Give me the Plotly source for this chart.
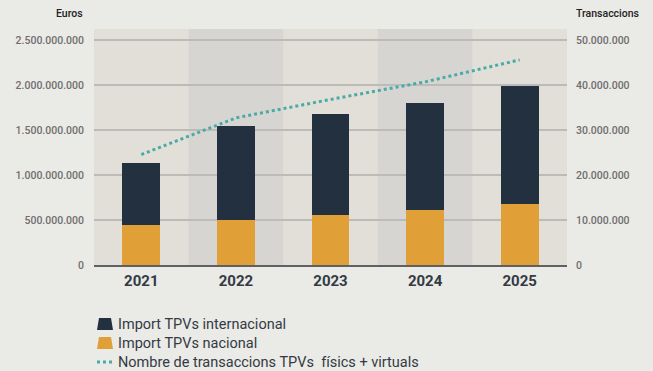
import plotly.graph_objects as go

years = ["2021", "2022", "2023", "2024", "2025"]
import_nacional = [446_000_000, 502_000_000, 558_000_000, 614_000_000, 681_000_000]
import_internacional = [692_000_000, 1_038_000_000, 1_116_000_000, 1_183_000_000, 1_306_000_000]
transaccions = [24_550_000, 32_700_000, 36_800_000, 40_700_000, 45_600_000]

euro_ticks = [0, 500_000_000, 1_000_000_000, 1_500_000_000, 2_000_000_000, 2_500_000_000]
trans_ticks = [0, 10_000_000, 20_000_000, 30_000_000, 40_000_000, 50_000_000]

NAVY = "#23303F"
ORANGE = "#E1A037"
TEAL = "#4AABA6"
PAGE = "#EAEAE6"
LIGHT_BAND = "#E1DFD8"
DARK_BAND = "#D6D5D1"
TEXT = "#333A44"
FONT = "Roboto"

# plot area in pixels (for placing the key below the chart)
L, R, T, B = 94, 567, 29, 265
W, H = 653, 371


def px(x):
    return (x - L) / (R - L)


def py(y):
    return (B - y) / (B - T)


fig = go.Figure()
fig.add_trace(go.Bar(
    x=years, y=import_nacional, name="Import TPVs nacional",
    marker=dict(color=ORANGE, line=dict(width=0)), width=0.4,
))
fig.add_trace(go.Bar(
    x=years, y=import_internacional, name="Import TPVs internacional",
    marker=dict(color=NAVY, line=dict(width=0)), width=0.4,
))
fig.add_trace(go.Scatter(
    x=years, y=transaccions, yaxis="y2", mode="lines",
    name="Nombre de transaccions TPVs  físics + virtuals",
    line=dict(color=TEAL, width=3, dash="dot"),
))

# alternating column bands
shapes = []
for i in (1, 3):
    shapes.append(dict(type="rect", xref="x", yref="paper", x0=i - 0.5, x1=i + 0.5,
                       y0=0, y1=1, fillcolor=DARK_BAND, line=dict(width=0), layer="below"))

# key below the chart
key = [
    ("Import TPVs internacional", NAVY, "box"),
    ("Import TPVs nacional", ORANGE, "box"),
    ("Nombre de transaccions TPVs  físics + virtuals", TEAL, "dots"),
]
annotations = []
for k, (label, color, kind) in enumerate(key):
    yc = 324 + 19 * k
    if kind == "box":
        shapes.append(dict(type="path", xref="paper", yref="paper",
                           path=f"M {px(97)},{py(yc + 6)} L {px(113)},{py(yc + 6)} "
                                f"L {px(111)},{py(yc - 6)} L {px(99)},{py(yc - 6)} Z",
                           fillcolor=color, line=dict(width=0)))
    else:
        shapes.append(dict(type="line", xref="paper", yref="paper",
                           x0=px(97), x1=px(114), y0=py(yc), y1=py(yc),
                           line=dict(color=color, width=3, dash="dot")))
    annotations.append(dict(text=label, xref="paper", yref="paper", x=px(116), y=py(yc),
                            xanchor="left", yanchor="middle", showarrow=False,
                            font=dict(size=14.5, color=TEXT, family=FONT)))

annotations += [
    dict(text="Euros", xref="paper", yref="paper", x=px(85), y=py(22),
         xanchor="right", yanchor="bottom", showarrow=False,
         font=dict(size=10.5, color="#222", family=FONT, weight=500)),
    dict(text="Transaccions", xref="paper", yref="paper", x=px(574), y=py(22),
         xanchor="left", yanchor="bottom", showarrow=False,
         font=dict(size=10.5, color="#222", family=FONT, weight=500)),
]

y_max = 2_623_000_000
fig.update_layout(
    width=W, height=H,
    margin=dict(l=L, r=W - R, t=T, b=H - B),
    paper_bgcolor=PAGE, plot_bgcolor=LIGHT_BAND,
    barmode="stack", bargap=0.6,
    separators=",.",
    font=dict(family=FONT, color=TEXT),
    showlegend=False,
    shapes=shapes,
    annotations=annotations,
    xaxis=dict(
        range=[-0.5, 4.5], showgrid=False, showline=True, linecolor="#5E6064", linewidth=2,
        ticks="", tickfont=dict(size=15, color=TEXT, family=FONT, weight="bold"),
        ticklabelstandoff=1,
    ),
    yaxis=dict(
        range=[0, y_max], tickvals=euro_ticks, tickformat=",d",
        showgrid=True, gridcolor="#BDBBB8", gridwidth=1.5, zeroline=False,
        tickfont=dict(size=10.5, color="#6E6E6E", weight=500), ticklabelstandoff=9,
    ),
    yaxis2=dict(
        overlaying="y", side="right", range=[0, y_max / 50], tickvals=trans_ticks,
        tickformat=",d", showgrid=False, zeroline=False,
        tickfont=dict(size=10.5, color="#6E6E6E", weight=500), ticklabelstandoff=8,
    ),
)

fig.write_html("out.html")
